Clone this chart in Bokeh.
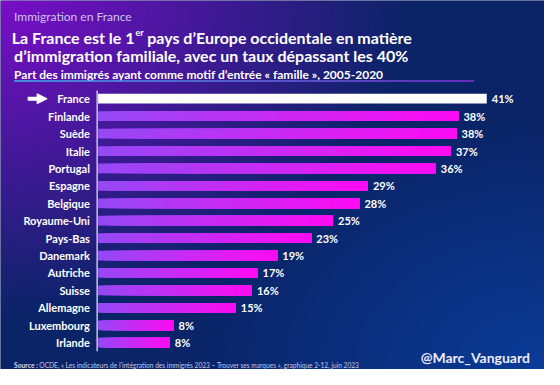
import numpy as np
from bokeh.plotting import figure
from bokeh.models import Range1d, ColumnDataSource, Arrow, NormalHead
from bokeh.core.properties import value
from bokeh.embed import file_html
from bokeh.resources import INLINE

# ---------------- data ----------------
countries = ["France", "Finlande", "Suède", "Italie", "Portugal", "Espagne", "Belgique",
             "Royaume-Uni", "Pays-Bas", "Danemark", "Autriche", "Suisse", "Allemagne",
             "Luxembourg", "Irlande"]
shares = [41.2, 38.2, 38.0, 37.4, 35.8, 28.6, 27.7, 24.9, 22.6, 19.0, 16.9, 16.3, 14.6, 8.0, 7.6]
share_labels = ["41%", "38%", "38%", "37%", "36%", "29%", "28%", "25%", "23%", "19%",
                "17%", "16%", "15%", "8%", "8%"]
highlight = "France"

kicker = "Immigration en France"
title_l1a = "La France est le 1"
title_sup = "er"
title_l1b = "pays d’Europe occidentale en matière"
title_l2 = "d’immigration familiale, avec un taux dépassant les 40%"
subtitle = "Part des immigrés ayant comme motif d’entrée « famille », 2005-2020"
source_label = "Source :"
source_text = ("OCDE, « Les indicateurs de l’intégration des immigrés 2023 – "
               "Trouver ses marques », graphique 2-12, juin 2023")
credit = "@Marc_Vanguard"

# ---------------- layout (reference pixel space) ----------------
W_REF, H_REF = 560, 385
X0 = 100.5          # x of 0 %
PX_PER_PCT = 9.71
ROW0_Y = 102.5      # centre of first row (from top)
ROW_STEP = 18.18
FONT = value("Lato")


def Y(ref_y):
    return H_REF - ref_y


p = figure(width=544, height=369, output_backend="svg", toolbar_location=None,
           x_range=Range1d(0, W_REF), y_range=Range1d(0, H_REF),
           x_axis_type=None, y_axis_type=None, min_border=0)
p.grid.visible = False
p.outline_line_color = None
p.background_fill_color = "#0c2264"
p.border_fill_color = "#0c2264"
p.extra_x_ranges = {"val": Range1d(-X0 / PX_PER_PCT, (W_REF - X0) / PX_PER_PCT)}
p.extra_y_ranges = {"row": Range1d((H_REF - ROW0_Y) / ROW_STEP, -ROW0_Y / ROW_STEP)}

# ---------------- background gradient ----------------
nx, ny = 280, 193
xs = np.linspace(0, W_REF, nx)[None, :]
ys = np.linspace(0, H_REF, ny)[:, None]
purple = np.array([122, 14, 200], float)
navy = np.array([11, 36, 104], float)
blue = np.array([10, 60, 152], float)
wp = np.clip(1 - np.sqrt((xs / 420) ** 2 + (ys / 330) ** 2), 0, 1)
wb = np.clip(1 - np.sqrt(((W_REF - xs) / 360) ** 2 + ((H_REF - ys) / 260) ** 2), 0, 1)
wn = np.clip(1 - wp - wb, 0, 1)
rgb = (wn[..., None] * navy + wp[..., None] * purple + wb[..., None] * blue)
img = np.empty((ny, nx), dtype=np.uint32)
view = img.view(dtype=np.uint8).reshape((ny, nx, 4))
view[..., 0] = rgb[..., 0].astype(np.uint8)
view[..., 1] = rgb[..., 1].astype(np.uint8)
view[..., 2] = rgb[..., 2].astype(np.uint8)
view[..., 3] = 255
p.image_rgba(image=[img[::-1]], x=0, y=0, dw=W_REF, dh=H_REF)

# ---------------- bars ----------------
rows = list(range(len(countries)))
N = 28
c_left = np.array([150, 72, 245], float)
c_right = np.array([252, 12, 242], float)
seg = dict(row=[], left=[], right=[], color=[])
for r, c, v in zip(rows, countries, shares):
    if c == highlight:
        continue
    for k in range(N):
        t = k / (N - 1)
        col = c_left * (1 - t) + c_right * t
        seg["row"].append(r)
        seg["left"].append(v * k / N)
        seg["right"].append(v)
        seg["color"].append("#%02x%02x%02x" % tuple(int(round(u)) for u in col))
p.hbar(y="row", left="left", right="right", height=0.56, fill_color="color",
       line_color=None, source=ColumnDataSource(seg),
       x_range_name="val", y_range_name="row")

hi = [i for i, c in enumerate(countries) if c == highlight]
p.hbar(y=hi, left=0, right=[shares[i] for i in hi], height=0.56,
       fill_color="white", line_color=None, x_range_name="val", y_range_name="row")

# axis line
p.segment(x0=[X0 - 1], x1=[X0 - 1], y0=[Y(94)], y1=[Y(366)],
          line_color="#c8c0ea", line_width=1.5)

# arrow marking France
p.add_layout(Arrow(x_start=28, x_end=48, y_start=Y(ROW0_Y), y_end=Y(ROW0_Y),
                   line_color="white", line_width=4,
                   end=NormalHead(size=10, fill_color="white", line_color="white")))

# country labels
p.text(x=92, y=rows, text=countries, y_range_name="row", text_align="right",
       text_baseline="middle", text_color="white", text_font=FONT,
       text_font_style="bold", text_font_size="11px")
# value labels
p.text(x=shares, y=rows, text=share_labels, x_range_name="val", y_range_name="row",
       x_offset=5, text_align="left", text_baseline="middle", text_color="white",
       text_font=FONT, text_font_style="bold", text_font_size="11px")

# ---------------- header ----------------
p.text(x=[14], y=[Y(16.5)], text=[kicker], text_color="#cdc4ee", text_font=FONT,
       text_font_size="12px", text_baseline="alphabetic")
p.text(x=[138], y=[Y(39)], text=[title_l1a], text_align="right", text_color="white",
       text_font=FONT, text_font_style="bold", text_font_size="16px",
       text_baseline="alphabetic")
p.text(x=[139], y=[Y(33)], text=[title_sup], text_color="white", text_font=FONT,
       text_font_style="bold", text_font_size="9px", text_baseline="alphabetic")
p.text(x=[151], y=[Y(39)], text=[title_l1b], text_color="white", text_font=FONT,
       text_font_style="bold", text_font_size="16px", text_baseline="alphabetic")
p.text(x=[14], y=[Y(57.5)], text=[title_l2], text_color="white", text_font=FONT,
       text_font_style="bold", text_font_size="16px", text_baseline="alphabetic")
p.text(x=[14], y=[Y(77)], text=[subtitle], text_color="white", text_font=FONT,
       text_font_style="bold", text_font_size="12px", text_baseline="alphabetic")

# gradient underline
M = 40
ux = np.linspace(14, 487, M + 1)
ca = np.array([60, 175, 235], float)
cb = np.array([130, 50, 215], float)
ucol = ["#%02x%02x%02x" % tuple(int(round(u)) for u in (ca * (1 - t) + cb * t))
        for t in np.linspace(0, 1, M)]
p.segment(x0=ux[:-1], x1=ux[1:] + 0.5, y0=Y(84), y1=Y(84), line_color=ucol,
          line_width=1.6)

# ---------------- footer ----------------
p.text(x=[14], y=[Y(380)], text=[source_label], text_color="#d8d4f0", text_font=FONT,
       text_font_style="bold", text_font_size="6.7px", text_baseline="alphabetic")
p.text(x=[40], y=[Y(380)], text=[source_text], text_color="#c4c4e4", text_font=FONT,
       text_font_size="6.6px", text_baseline="alphabetic")
p.text(x=[545], y=[Y(373)], text=[credit], text_align="right", text_baseline="middle",
       text_color="#eeeaff", text_font=FONT, text_font_style="bold",
       text_font_size="14px")

open("out.html", "w").write(file_html(p, INLINE))
